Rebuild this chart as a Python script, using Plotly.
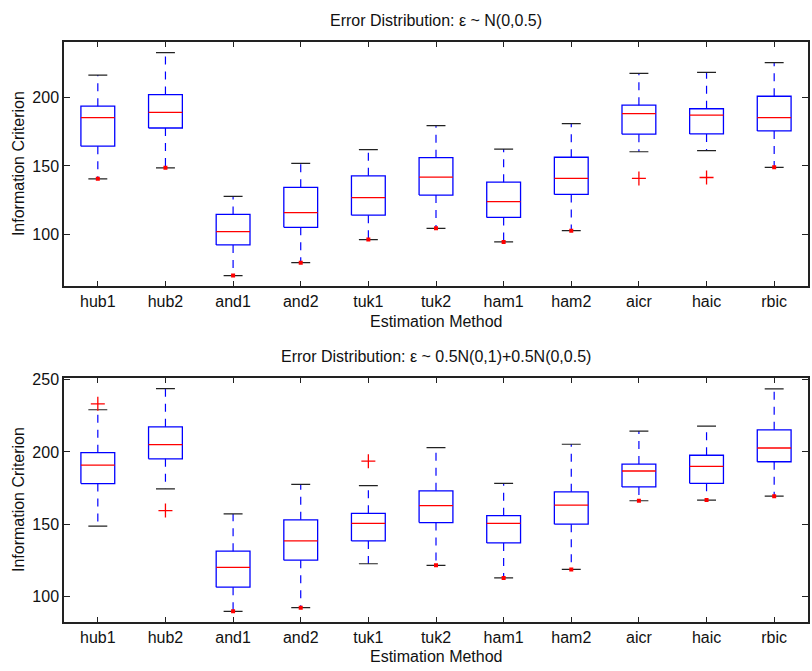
import plotly.graph_objects as go

methods = ["hub1", "hub2", "and1", "and2", "tuk1", "tuk2", "ham1", "ham2", "aicr", "haic", "rbic"]

# Panel 1: eps ~ N(0,0.5)
p1_upper = [216.1, 232.5, 127.9, 151.9, 161.8, 179.3, 162.3, 180.8, 217.3, 218.0, 225.2]
p1_q3 = [193.5, 201.9, 114.7, 134.4, 142.8, 156.0, 138.2, 156.3, 194.2, 191.6, 200.7]
p1_median = [185.1, 188.9, 102.2, 116.1, 126.9, 141.8, 124.0, 140.9, 188.0, 187.0, 185.1]
p1_q1 = [164.4, 177.6, 92.5, 105.3, 114.2, 128.8, 112.5, 129.3, 173.1, 173.3, 175.5]
p1_lower = [140.6, 148.6, 70.2, 79.6, 96.4, 104.6, 94.7, 102.9, 160.3, 161.1, 149.0]
p1_out_x = ["aicr", "haic"]
p1_out_y = [140.9, 141.6]
p1_dot_x = ["hub1", "hub2", "and1", "and2", "tuk1", "tuk2", "ham1", "ham2", "rbic"]
p1_dot_y = [140.6, 148.6, 70.2, 79.6, 96.4, 104.6, 94.7, 102.9, 149.0]

# Panel 2: eps ~ 0.5N(0,1)+0.5N(0,0.5)
p2_upper = [229.2, 243.8, 157.1, 177.6, 176.7, 203.0, 178.3, 205.3, 214.4, 217.8, 243.6]
p2_q3 = [199.5, 217.4, 131.3, 153.0, 157.5, 173.1, 155.9, 172.4, 191.6, 197.7, 215.3]
p2_median = [190.9, 205.0, 120.1, 138.4, 150.5, 162.8, 150.5, 163.2, 186.8, 190.0, 202.7]
p2_q1 = [178.1, 195.2, 106.4, 125.1, 138.4, 151.1, 137.0, 150.0, 175.8, 178.3, 193.2]
p2_lower = [148.6, 174.4, 89.7, 92.2, 122.6, 121.5, 112.8, 118.7, 166.2, 166.7, 169.4]
p2_out_x = ["hub1", "hub2", "tuk1"]
p2_out_y = [233.3, 159.4, 193.6]
p2_dot_x = ["and1", "and2", "tuk2", "ham1", "ham2", "aicr", "haic", "rbic"]
p2_dot_y = [89.7, 92.2, 121.5, 112.8, 118.7, 166.2, 166.7, 169.4]

titles = ["Error Distribution: \u03b5 ~ N(0,0.5)", "Error Distribution: \u03b5 ~ 0.5N(0,1)+0.5N(0,0.5)"]
xlabel = "Estimation Method"
ylabel = "Information Criterion"
yticks_top = [100, 150, 200]
yticks_bot = [100, 150, 200, 250]
yrange_top = [62.3, 240.4]
yrange_bot = [82.0, 251.4]

BLUE = "#0000FF"
RED = "#FF0000"
FONT = "Liberation Sans, Arial, Helvetica, sans-serif"
FS = 16
HW = 0.25   # half box width
CW = 0.14   # half cap width

fig = go.Figure()


def add_panel(xa, ya, upper, q3, med, q1, lower, out_x, out_y, dot_x, dot_y):
    bx, by, mx, my, wx, wy, cx, cy = [], [], [], [], [], [], [], []
    for i, m in enumerate(methods):
        bx += [i - HW, i + HW, i + HW, i - HW, i - HW, None]
        by += [q1[i], q1[i], q3[i], q3[i], q1[i], None]
        mx += [i - HW, i + HW, None]
        my += [med[i], med[i], None]
        wx += [i, i, None, i, i, None]
        wy += [q3[i], upper[i], None, q1[i], lower[i], None]
        cx += [i - CW, i + CW, None, i - CW, i + CW, None]
        cy += [upper[i], upper[i], None, lower[i], lower[i], None]
    common = dict(xaxis=xa, yaxis=ya, mode="lines", hoverinfo="skip", showlegend=False)
    fig.add_trace(go.Scatter(x=wx, y=wy, line=dict(color=BLUE, width=1.2, dash="8px,7px"), **common))
    fig.add_trace(go.Scatter(x=cx, y=cy, line=dict(color="#222222", width=1.2), **common))
    fig.add_trace(go.Scatter(x=bx, y=by, line=dict(color=BLUE, width=1.3), **common))
    fig.add_trace(go.Scatter(x=mx, y=my, line=dict(color=RED, width=1.3), **common))
    fig.add_trace(go.Scatter(
        x=[methods.index(m) for m in out_x], y=out_y, xaxis=xa, yaxis=ya, mode="markers",
        marker=dict(symbol="cross-thin", size=10, line=dict(color=RED, width=1.3), color=RED),
        hoverinfo="skip", showlegend=False))
    fig.add_trace(go.Scatter(
        x=[methods.index(m) for m in dot_x], y=dot_y, xaxis=xa, yaxis=ya, mode="markers",
        marker=dict(symbol="square", size=4, color=RED),
        hoverinfo="skip", showlegend=False))


add_panel("x", "y", p1_upper, p1_q3, p1_median, p1_q1, p1_lower, p1_out_x, p1_out_y, p1_dot_x, p1_dot_y)
add_panel("x2", "y2", p2_upper, p2_q3, p2_median, p2_q1, p2_lower, p2_out_x, p2_out_y, p2_dot_x, p2_dot_y)

W, H = 812, 671
L, R = 64, 808
top1, bot1 = 36, 283
top2, bot2 = 375, 622

xcommon = dict(
    range=[-0.5, 10.5], tickvals=list(range(len(methods))), ticktext=methods,
    ticks="inside", ticklen=6, tickcolor="#222222", tickwidth=1,
    showline=True, linecolor="#222222", linewidth=1.5, mirror="ticks",
    showgrid=False, zeroline=False, tickfont=dict(family=FONT, size=FS, color="#111111"),
    domain=[L / W, R / W], fixedrange=True,
)
ycommon = dict(
    ticks="inside", ticklen=6, tickcolor="#222222", tickwidth=1,
    showline=True, linecolor="#222222", linewidth=1.5, mirror="ticks",
    showgrid=False, zeroline=False, tickfont=dict(family=FONT, size=FS, color="#111111"),
    fixedrange=True,
)

fig.update_layout(
    width=W, height=H, margin=dict(l=0, r=0, t=0, b=0),
    paper_bgcolor="white", plot_bgcolor="white",
    xaxis=dict(anchor="y", **xcommon),
    yaxis=dict(anchor="x", range=yrange_top, tickvals=yticks_top,
               domain=[1 - bot1 / H, 1 - top1 / H], **ycommon),
    xaxis2=dict(anchor="y2", **xcommon),
    yaxis2=dict(anchor="x2", range=yrange_bot, tickvals=yticks_bot,
                domain=[1 - bot2 / H, 1 - top2 / H], **ycommon),
)

cx = (L + R) / 2 / W
ann = []
for t, ty in zip(titles, [15, 354]):
    ann.append(dict(text=t, x=cx, y=1 - ty / H, xref="paper", yref="paper", showarrow=False,
                    xanchor="center", yanchor="middle", font=dict(family=FONT, size=FS, color="#111111")))
for ty in [318, 656]:
    ann.append(dict(text=xlabel, x=cx, y=1 - ty / H, xref="paper", yref="paper", showarrow=False,
                    xanchor="center", yanchor="middle", font=dict(family=FONT, size=FS, color="#111111")))
for (a, b) in [(top1, bot1), (top2, bot2)]:
    ann.append(dict(text=ylabel, x=18 / W, y=1 - (a + b) / 2 / H, xref="paper", yref="paper",
                    showarrow=False, textangle=-90, xanchor="center", yanchor="middle",
                    font=dict(family=FONT, size=FS, color="#111111")))
fig.update_layout(annotations=ann)

fig.write_html("out.html")
